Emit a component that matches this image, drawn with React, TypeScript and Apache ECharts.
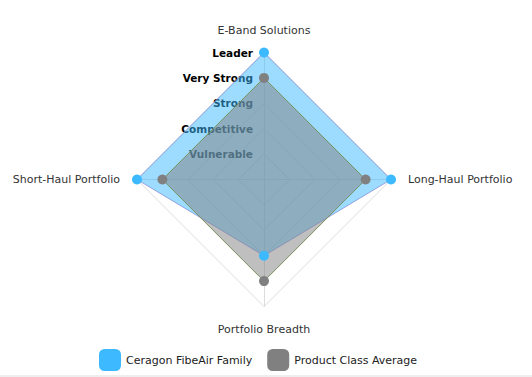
import React, { useEffect, useRef } from "react";
import * as echarts from "echarts";

// Indicators in ECharts radar order (counter-clockwise from the top)
const indicatorNames = [
  "E-Band Solutions",
  "Short-Haul Portfolio",
  "Portfolio Breadth",
  "Long-Haul Portfolio",
];
const levelLabels = ["", "Vulnerable", "Competitive", "Strong", "Very Strong", "Leader"];
const maxLevel = 5;

const seriesNames = ["Ceragon FibeAir Family", "Product Class Average"];
const ceragonValues = [5, 5, 3, 5];
const averageValues = [4, 4, 4, 4];

const FONT = "DejaVu Sans";

export default function App() {
  const ref = useRef<HTMLDivElement>(null);

  useEffect(() => {
    if (!ref.current) return;
    const chart = echarts.init(ref.current, undefined, { renderer: "svg" });
    chart.setOption({
      animation: false,
      backgroundColor: "#fff",
      legend: {
        data: seriesNames,
        left: 99,
        top: 349,
        padding: 0,
        icon: "roundRect",
        itemWidth: 22,
        itemHeight: 22,
        itemGap: 15,
        textStyle: { fontFamily: FONT, fontSize: 11, color: "#222" },
      },
      radar: {
        center: [264, 179.5],
        radius: 127,
        startAngle: 90,
        shape: "polygon",
        splitNumber: 5,
        nameGap: 17,
        axisName: { color: "#333", fontFamily: FONT, fontSize: 11 },
        splitLine: { lineStyle: { color: "#dcdcdc", width: 1 } },
        splitArea: { show: false },
        axisLine: { lineStyle: { color: "#dcdcdc" } },
        axisTick: { show: false },
        axisLabel: { show: false },
        indicator: indicatorNames.map((name, i) => {
          const ind: any = { name, min: 0, max: maxLevel };
          if (i === 0) {
            ind.axisLabel = {
              show: true,
              margin: 11,
              fontFamily: FONT,
              fontSize: 10.5,
              fontWeight: "bold",
              color: "#000",
              padding: [0, 0, 4, 0],
              formatter: (v: number) => levelLabels[Math.round(v)] ?? "",
            };
          }
          return ind;
        }),
      },
      series: [
        {
          type: "radar",
          symbol: "circle",
          symbolSize: 10,
          data: [
            {
              name: seriesNames[0],
              value: ceragonValues,
              itemStyle: { color: "#3cb9ff" },
              lineStyle: { color: "#b39ddb", width: 1 },
              areaStyle: { color: "rgba(60,185,255,0.5)", opacity: 1 },
            },
            {
              name: seriesNames[1],
              value: averageValues,
              itemStyle: { color: "#808080" },
              lineStyle: { color: "#7a9a5a", width: 1 },
              areaStyle: { color: "rgba(128,128,128,0.5)", opacity: 1 },
            },
          ],
        },
      ],
      graphic: [
        {
          type: "rect",
          left: 0,
          bottom: 0,
          shape: { width: 532, height: 2 },
          style: { fill: "#eeeeee" },
          silent: true,
        },
      ],
    });
    return () => chart.dispose();
  }, []);

  return (
    <div
      ref={ref}
      style={{ position: "absolute", left: 0, top: 0, width: 532, height: 377 }}
    />
  );
}
